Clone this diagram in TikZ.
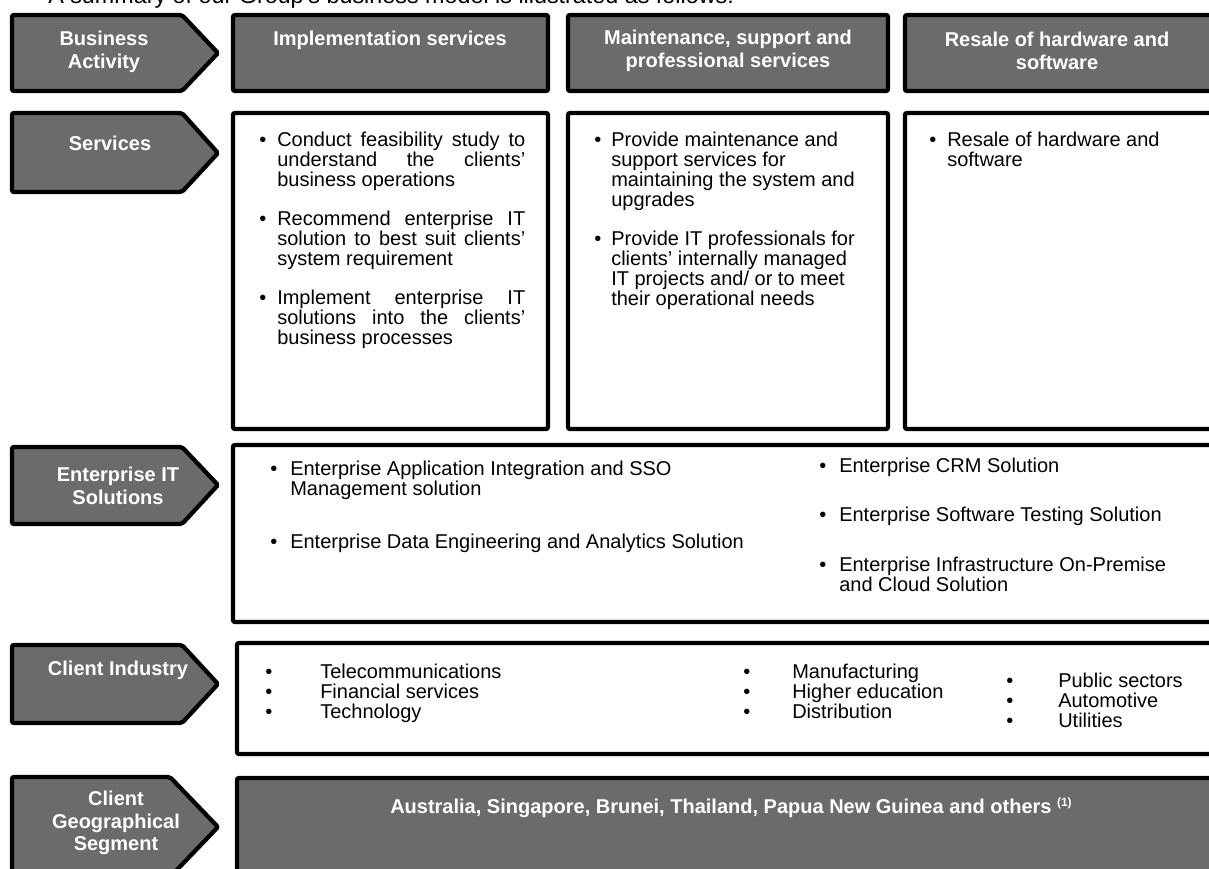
\documentclass[tikz,border=0pt]{standalone}
\usepackage{fontspec}
\setmainfont{Liberation Sans}
\definecolor{tagGrey}{RGB}{107,107,107}

\begin{document}
\begin{tikzpicture}[x=0.75pt,y=-0.75pt,
    tag/.style={draw=black, line width=3.2pt, fill=tagGrey, rounded corners=1.5pt},
    panel/.style={draw=black, line width=3.2pt, fill=white, rounded corners=1.5pt},
    head/.style={text=white, inner sep=0pt, align=center, font=\bfseries\fontsize{15}{17}\selectfont},
    item/.style={anchor=north west, inner sep=0pt, font=\fontsize{15}{15}\selectfont},
    bullet/.style={anchor=north west, inner sep=0pt, align=left, font=\fontsize{15}{15}\selectfont}]

    \useasboundingbox (0,0) rectangle (1209,868);

    \node[anchor=base west, inner sep=0pt, font=\fontsize{17.5}{20}\selectfont] (title) at (48,3)
        {A summary of our Group's business model is illustrated as follows:};

    % row tags
    \draw[tag] (12,15) -- (182,15) -- (218,53) -- (182,91) -- (12,91) -- cycle;
    \draw[tag] (12,113) -- (182,113) -- (218,153) -- (182,192) -- (12,192) -- cycle;
    \draw[tag] (12,447) -- (182,447) -- (218,485) -- (182,524) -- (12,524) -- cycle;
    \draw[tag] (12,645) -- (182,645) -- (218,684) -- (182,723) -- (12,723) -- cycle;
    \draw[tag] (12,777) -- (170,777) -- (218,827) -- (170,877) -- (12,877) -- cycle;

    \node[head] (tBiz) at (104,52) {Business\\Activity};
    \node[head] (tSrv) at (110,143) {Services};
    \node[head] (tEit) at (118,486) {Enterprise IT\\Solutions};
    \node[head] (tInd) at (118,670) {Client Industry};
    \node[head] (tGeo) at (116,823) {Client\\Geographical\\Segment};

    % business activity headers
    \draw[tag] (233,15) rectangle (548,91);
    \draw[tag] (568,15) rectangle (888,91);
    \draw[tag] (905,15) rectangle (1230,91);

    \node[head] (hImp) at (390,40) {Implementation services};
    \node[head] (hMnt) at (728,51) {Maintenance, support and\\professional services};
    \node[head] (hRes) at (1057,51) {Resale of hardware and\\software};

    % services
    \draw[panel] (233,113) rectangle (548,429);
    \draw[panel] (568,113) rectangle (888,429);
    \draw[panel] (905,113) rectangle (1230,429);

    \node[bullet] (b1) at (259,132) {\vphantom{E}•};
    \node[item, text width=186pt, align=justify] (s1) at (277,132)
        {Conduct feasibility study to\linebreak understand the clients'\linebreak business operations};
    \node[bullet] (b2) at (259,211) {\vphantom{E}•};
    \node[item, text width=186pt, align=justify] (s2) at (277,211)
        {Recommend enterprise IT\linebreak solution to best suit clients'\linebreak system requirement};
    \node[bullet] (b3) at (259,290) {\vphantom{E}•};
    \node[item, text width=186pt, align=justify] (s3) at (277,290)
        {Implement enterprise IT\linebreak solutions into the clients'\linebreak business processes};

    \node[bullet] (b4) at (594,132) {\vphantom{E}•};
    \node[item, align=left] (s4) at (611,132)
        {Provide maintenance and\\support services for\\maintaining the system and\\upgrades};
    \node[bullet] (b5) at (594,231) {\vphantom{E}•};
    \node[item, align=left] (s5) at (611,231)
        {Provide IT professionals for\\clients' internally managed\\IT projects and/ or to meet\\their operational needs};

    \node[bullet] (b6) at (929,132) {\vphantom{E}•};
    \node[item, align=left] (s6) at (947,132) {Resale of hardware and\\software};

    % enterprise IT solutions
    \draw[panel] (233,445) rectangle (1230,622);

    \node[bullet] (e1b) at (270,461) {\vphantom{E}•};
    \node[item, align=left] (e1) at (290,461) {Enterprise Application Integration and SSO\\Management solution};
    \node[bullet] (e2b) at (270,534) {\vphantom{E}•};
    \node[item] (e2) at (290,534) {Enterprise Data Engineering and Analytics Solution};
    \node[bullet] (e3b) at (819,458) {\vphantom{E}•};
    \node[item] (e3) at (839,458) {Enterprise CRM Solution};
    \node[bullet] (e4b) at (819,507) {\vphantom{E}•};
    \node[item] (e4) at (839,507) {Enterprise Software Testing Solution};
    \node[bullet] (e5b) at (819,557) {\vphantom{E}•};
    \node[item, align=left] (e5) at (839,557) {Enterprise Infrastructure On-Premise\\and Cloud Solution};

    % client industry
    \draw[panel] (237,643) rectangle (1230,754);

    \node[bullet] (i1b) at (265,664) {\vphantom{E}•\\•\\•};
    \node[item, align=left] (i1) at (320,664) {Telecommunications\\Financial services\\Technology};
    \node[bullet] (i2b) at (743,664) {\vphantom{E}•\\•\\•};
    \node[item, align=left] (i2) at (792,664) {Manufacturing\\Higher education\\Distribution};
    \node[bullet] (i3b) at (1006,673) {\vphantom{E}•\\•\\•};
    \node[item, align=left] (i3) at (1058,673) {Public sectors\\Automotive\\Utilities};

    % client geographical segment
    \draw[tag] (237,778) rectangle (1230,900);
    \node[head] (geo) at (731,808)
        {Australia, Singapore, Brunei, Thailand, Papua New Guinea and others \raisebox{0.7ex}{\fontsize{9}{9}\selectfont (1)}};

\end{tikzpicture}
\end{document}
